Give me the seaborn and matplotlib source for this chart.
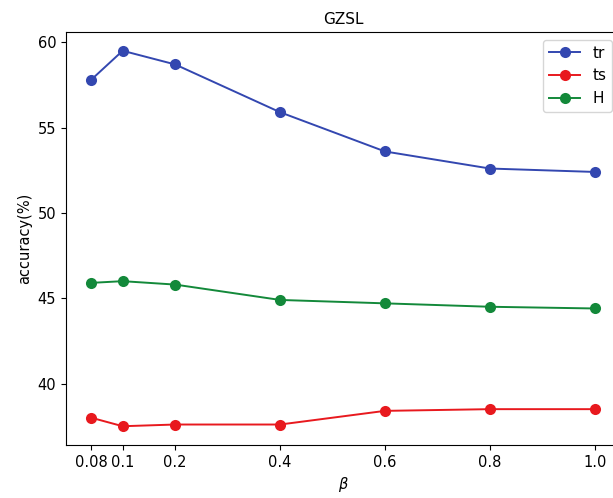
import matplotlib
matplotlib.use("Agg")
import matplotlib.pyplot as plt
import seaborn as sns
import pandas as pd

# data
beta_pos = [0.04, 0.1, 0.2, 0.4, 0.6, 0.8, 1.0]
beta_labels = ["0.08", "0.1", "0.2", "0.4", "0.6", "0.8", "1.0"]
tr = [57.8, 59.5, 58.7, 55.9, 53.6, 52.6, 52.4]
ts = [38.0, 37.5, 37.6, 37.6, 38.4, 38.5, 38.5]
H = [45.9, 46.0, 45.8, 44.9, 44.7, 44.5, 44.4]

series = {"tr": tr, "ts": ts, "H": H}
colors = {"tr": "#3347b0", "ts": "#e8191e", "H": "#13893a"}

plt.rcParams["font.family"] = ["DejaVu Sans"]
plt.rcParams["font.size"] = 10.5

fig = plt.figure(figsize=(6.13, 4.98), dpi=100)
left, right = 66 / 613, 620 / 613
bottom, top = 1 - 445 / 498, 1 - 32 / 498
ax = fig.add_axes([left, bottom, right - left, top - bottom])

for name, vals in series.items():
    df = pd.DataFrame({"beta": beta_pos, "acc": vals})
    sns.lineplot(data=df, x="beta", y="acc", ax=ax, color=colors[name],
                 marker="o", markersize=8, markeredgecolor=colors[name],
                 markeredgewidth=0, linewidth=1.4, label=name)

ax.set_xticks(beta_pos)
ax.set_xticklabels(beta_labels)
ax.set_yticks([40, 45, 50, 55, 60])
ax.set_title("GZSL", fontsize=11)
ax.set_xlabel(r"$\beta$")
ax.set_ylabel("accuracy(%)")
ax.legend(loc="upper right", fontsize=11)

fig.savefig("out.png", dpi=100)
